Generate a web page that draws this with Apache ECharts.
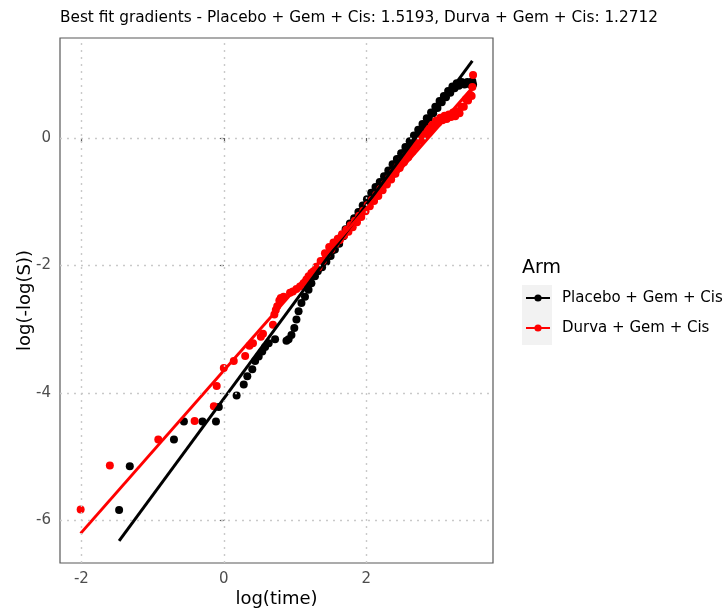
<!DOCTYPE html>
<html>
<head>
<meta charset="utf-8">
<script src="https://cdn.jsdelivr.net/npm/echarts@6/dist/echarts.min.js"></script>
<style>
html,body{margin:0;padding:0;background:#fff;}
#chart{width:723px;height:609px;}
</style>
</head>
<body>
<div id="chart"></div>
<script>
// ---- data ----
const titleText = 'Best fit gradients - Placebo + Gem + Cis: 1.5193, Durva + Gem + Cis: 1.2712';
const armNames = ['Placebo + Gem + Cis', 'Durva + Gem + Cis'];
const armColors = ['#000000', '#FF0000'];
const xTicks = [-2, 0, 2];
const yTicks = [-6, -4, -2, 0];

// fitted lines: gradient, intercept, x span
const placeboGradient = 1.5193, placeboIntercept = -4.091, placeboSpan = [-1.47, 3.49];
const durvaGradient = 1.2712, durvaIntercept = -3.65, durvaSpan = [-2.01, 3.50];

// Placebo + Gem + Cis : [log(time), log(-log(S))]
const placeboPoints = [
[-1.47,-5.84],[-1.32,-5.15],[-0.70,-4.73],[-0.56,-4.45],[-0.30,-4.45],[-0.11,-4.45],[-0.07,-4.22],
[0.18,-4.04],[0.28,-3.87],[0.33,-3.74],[0.40,-3.63],[0.44,-3.50],[0.49,-3.43],[0.54,-3.35],[0.58,-3.28],
[0.63,-3.22],[0.72,-3.16],[0.88,-3.18],[0.91,-3.16],[0.95,-3.09],[0.99,-2.98],[1.02,-2.85],[1.05,-2.72],
[1.09,-2.59],[1.14,-2.49],[1.19,-2.38],[1.23,-2.28],[1.28,-2.17],[1.32,-2.09],
[1.35,-2.02],[1.38,-2.03],[1.41,-1.94],[1.44,-1.94],[1.47,-1.85],[1.50,-1.85],[1.53,-1.76],[1.56,-1.75],
[1.59,-1.64],[1.62,-1.66],[1.65,-1.55],[1.68,-1.54],[1.71,-1.43],[1.74,-1.46],[1.77,-1.34],[1.80,-1.36],
[1.83,-1.26],[1.86,-1.26],[1.89,-1.16],[1.92,-1.16],[1.95,-1.06],[1.98,-1.06],[2.01,-0.96],[2.04,-0.98],
[2.07,-0.86],[2.10,-0.89],[2.13,-0.77],[2.16,-0.79],[2.19,-0.69],[2.22,-0.70],[2.25,-0.60],[2.28,-0.60],
[2.31,-0.51],[2.34,-0.52],[2.37,-0.41],[2.40,-0.43],[2.43,-0.33],[2.46,-0.33],[2.49,-0.24],[2.52,-0.24],
[2.55,-0.14],[2.58,-0.15],[2.61,-0.05],[2.64,-0.06],[2.67,0.04],[2.70,0.03],[2.73,0.13],[2.76,0.12],
[2.79,0.22],[2.82,0.21],[2.85,0.31],[2.88,0.30],[2.91,0.40],[2.94,0.39],[2.97,0.49],[3.00,0.47],
[3.03,0.58],[3.06,0.56],[3.09,0.66],[3.12,0.64],[3.15,0.74],[3.18,0.71],[3.21,0.81],[3.24,0.78],
[3.27,0.86],[3.30,0.82],[3.34,0.88],[3.38,0.84],[3.42,0.88],[3.46,0.84],[3.49,0.89],[3.50,0.84]
];

// Durva + Gem + Cis : [log(time), log(-log(S))]
const durvaPoints = [
[-2.01,-5.83],[-1.60,-5.14],[-0.92,-4.73],[-0.41,-4.44],[-0.14,-4.21],[-0.10,-3.89],[0.00,-3.61],
[0.14,-3.50],[0.30,-3.42],[0.36,-3.26],[0.41,-3.22],[0.52,-3.12],[0.55,-3.07],[0.69,-2.93],[0.71,-2.77],
[0.73,-2.70],[0.75,-2.64],[0.78,-2.55],[0.80,-2.51],[0.84,-2.49],[0.93,-2.43],[0.97,-2.41],[1.02,-2.37],
[1.07,-2.33],[1.12,-2.28],[1.16,-2.22],[1.19,-2.17],[1.23,-2.12],[1.26,-2.09],
[1.30,-2.02],[1.33,-2.03],[1.36,-1.93],[1.39,-1.93],[1.42,-1.81],[1.45,-1.82],[1.48,-1.71],[1.51,-1.75],
[1.54,-1.64],[1.57,-1.66],[1.60,-1.58],[1.63,-1.60],[1.66,-1.51],[1.69,-1.53],[1.72,-1.44],[1.75,-1.47],
[1.78,-1.37],[1.81,-1.40],[1.84,-1.30],[1.87,-1.32],[1.90,-1.22],[1.93,-1.24],[1.96,-1.14],[1.99,-1.15],
[2.02,-1.05],[2.05,-1.07],[2.08,-0.97],[2.11,-0.99],[2.14,-0.89],[2.17,-0.91],[2.20,-0.80],[2.23,-0.82],
[2.26,-0.72],[2.29,-0.73],[2.32,-0.63],[2.35,-0.65],[2.38,-0.54],[2.41,-0.56],[2.44,-0.45],[2.47,-0.47],
[2.50,-0.37],[2.53,-0.38],[2.56,-0.28],[2.59,-0.30],[2.62,-0.19],[2.65,-0.21],[2.68,-0.11],[2.71,-0.12],
[2.74,-0.02],[2.77,-0.04],[2.80,0.06],[2.83,0.04],[2.86,0.14],[2.89,0.11],[2.92,0.21],[2.95,0.18],
[2.98,0.27],[3.01,0.24],[3.04,0.32],[3.07,0.28],[3.10,0.35],[3.13,0.30],[3.16,0.37],[3.19,0.33],
[3.22,0.40],[3.25,0.34],[3.28,0.42],[3.31,0.39],[3.34,0.49],[3.37,0.49],[3.40,0.61],[3.43,0.59],
[3.46,0.68],[3.48,0.66],[3.49,0.80],[3.50,0.99]
];

// ---- build chart ----
function fitLine(g, b, span) {
  return span.map(x => [x, g * x + b]);
}
const FONT = 'DejaVu Sans';
const gridStyle = {color: '#c9c9c9', type: [2, 5], width: 1.4};
const chart = echarts.init(document.getElementById('chart'), null, {renderer: 'canvas'});
const option = {
  animation: false,
  backgroundColor: '#ffffff',
  textStyle: {fontFamily: FONT},
  title: [
    {text: titleText, left: 60, top: 11, padding: 0,
     textStyle: {fontFamily: FONT, fontSize: 15.3, fontWeight: 'normal', color: '#000'}},
    {text: 'Arm', left: 522, top: 259, padding: 0,
     textStyle: {fontFamily: FONT, fontSize: 19, fontWeight: 'normal', color: '#000'}}
  ],
  grid: {left: 60, top: 38, width: 433, height: 525, show: true, containLabel: false,
         outerBoundsMode: 'none',
         borderColor: '#595959', borderWidth: 1.2, backgroundColor: 'transparent'},
  xAxis: {
    type: 'value', min: -2.3, max: 3.78,
    name: 'log(time)', nameLocation: 'middle', nameGap: 27, nameMoveOverlap: false,
    nameTextStyle: {fontFamily: FONT, fontSize: 18, color: '#000'},
    axisLine: {show: false},
    axisTick: {show: true, length: 4, lineStyle: {color: '#595959', width: 1.2}, customValues: xTicks},
    axisLabel: {fontFamily: FONT, fontSize: 15, color: '#4d4d4d', margin: 9, customValues: xTicks},
    splitLine: {show: false}
  },
  yAxis: {
    type: 'value', min: -6.67, max: 1.57,
    name: 'log(-log(S))', nameLocation: 'middle', nameGap: 26, nameMoveOverlap: false,
    nameTextStyle: {fontFamily: FONT, fontSize: 18, color: '#000'},
    axisLine: {show: false},
    axisTick: {show: true, length: 4, lineStyle: {color: '#595959', width: 1.2}, customValues: yTicks},
    axisLabel: {fontFamily: FONT, fontSize: 15, color: '#4d4d4d', margin: 9, customValues: yTicks},
    splitLine: {show: false}
  },
  legend: {
    show: true, orient: 'vertical', left: 525, top: 290, padding: 0,
    itemWidth: 24, itemHeight: 9, itemGap: 14,
    data: armNames.map(n => ({name: n})),
    textStyle: {fontFamily: FONT, fontSize: 15, color: '#000', lineHeight: 16, padding: [0, 0, 0, 7]}
  },
  graphic: [
    {type: 'rect', left: 522, top: 285, z: -1, silent: true,
     shape: {width: 30, height: 60}, style: {fill: '#f2f2f2'}}
  ],
  series: [
    {
      type: 'scatter', name: 'grid', data: [], z: 1, silent: true,
      markLine: {
        silent: true, symbol: ['none', 'none'], label: {show: false},
        lineStyle: gridStyle, animation: false,
        data: xTicks.map(v => ({xAxis: v})).concat(yTicks.map(v => ({yAxis: v})))
      }
    },
    {
      type: 'scatter', name: armNames[0] + ' (points)', data: placeboPoints, z: 2,
      symbol: 'circle', symbolSize: 8, itemStyle: {color: armColors[0], opacity: 1}
    },
    {
      type: 'scatter', name: armNames[1] + ' (points)', data: durvaPoints, z: 3,
      symbol: 'circle', symbolSize: 8, itemStyle: {color: armColors[1], opacity: 1}
    },
    {
      type: 'line', name: armNames[0], data: fitLine(placeboGradient, placeboIntercept, placeboSpan),
      z: 4, symbol: 'circle', symbolSize: 8, showSymbol: false,
      lineStyle: {color: armColors[0], width: 3}, itemStyle: {color: armColors[0]}
    },
    {
      type: 'line', name: armNames[1], data: fitLine(durvaGradient, durvaIntercept, durvaSpan),
      z: 4, symbol: 'circle', symbolSize: 8, showSymbol: false,
      lineStyle: {color: armColors[1], width: 3}, itemStyle: {color: armColors[1]}
    }
  ]
};
chart.setOption(option);
</script>
</body>
</html>
